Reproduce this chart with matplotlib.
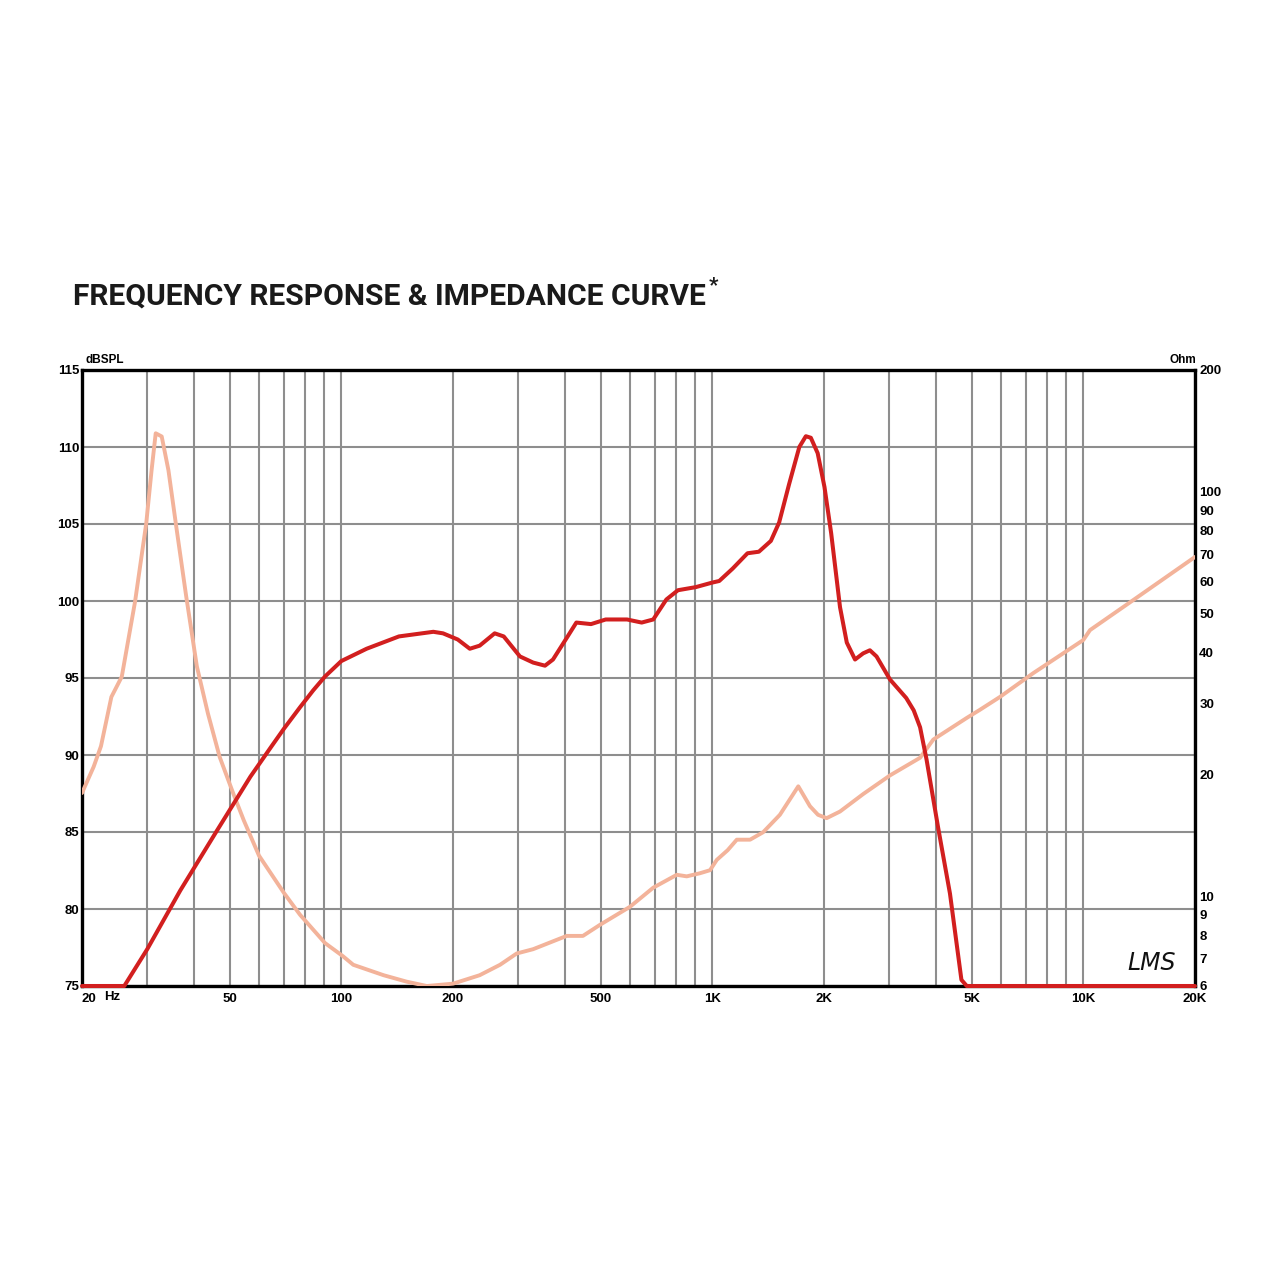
import matplotlib
matplotlib.use("Agg")
import matplotlib.pyplot as plt
from matplotlib import font_manager
from matplotlib.ticker import NullLocator

# ---------------- data ----------------
spl_freq = [20, 26, 30, 36.8, 45.7, 56.9, 65, 70, 77.4, 84, 90.4, 100, 117, 143, 177, 188, 206,
            222, 236, 259, 274, 303, 329, 354, 372, 405, 430, 471, 516, 589, 645, 693, 752, 808,
            902, 1001, 1044, 1134, 1244, 1335, 1438, 1514, 1611, 1716, 1787, 1843, 1923, 2006,
            2091, 2209, 2304, 2425, 2550, 2659, 2771, 3013, 3332, 3490, 3631, 3780, 4060,
            4371, 4693, 4851, 20000]
spl_db = [75, 75, 77.4, 81.2, 84.9, 88.6, 90.6, 91.7, 93.1, 94.2, 95.1, 96.1, 96.9, 97.7, 98.0,
          97.9, 97.5, 96.9, 97.1, 97.9, 97.7, 96.4, 96.0, 95.8, 96.2, 97.6, 98.6, 98.5, 98.8,
          98.8, 98.6, 98.8, 100.1, 100.7, 100.9, 101.2, 101.3, 102.1, 103.1, 103.2, 103.9,
          105.1, 107.6, 110.0, 110.7, 110.6, 109.6, 107.4, 104.4, 99.6, 97.3, 96.2, 96.6, 96.8,
          96.4, 94.9, 93.7, 92.9, 91.8, 89.7, 85.3, 81.0, 75.4, 75, 75]

imp_freq = [20, 21.5, 22.5, 24.0, 25.6, 27.8, 29.8, 30.8, 31.6, 32.8, 34.2, 35.9, 38.2, 40.8,
            43.7, 47.0, 51.2, 54.6, 60, 70, 77.4, 90.4, 101, 107.7, 130, 150, 170, 200, 236,
            267.8, 297, 329, 405, 448, 498, 600, 693, 802, 853, 926, 986, 1028, 1100, 1164,
            1264, 1371, 1521, 1705, 1833, 1927, 2033, 2209, 2552, 3013, 3631, 3941, 4851, 5262,
            5960, 7325, 9997, 10425, 13640, 20000]
imp_ohm = [18.0, 20.9, 23.5, 31.1, 34.9, 53.5, 83.6, 113, 139.5, 137, 113, 82, 55, 37, 28.3,
           22.1, 17.9, 15.4, 12.6, 10.2, 9.0, 7.66, 7.11, 6.77, 6.38, 6.15, 6.0, 6.08, 6.38,
           6.77, 7.22, 7.4, 7.98, 7.98, 8.5, 9.42, 10.5, 11.3, 11.2, 11.4, 11.6, 12.3, 13.0,
           13.8, 13.8, 14.4, 15.9, 18.7, 16.7, 15.9, 15.6, 16.2, 17.9, 19.9, 22.0, 24.4, 27.6,
           28.9, 31.1, 35.6, 43.0, 45.5, 54.0, 69.0]

x_tick_vals = [20, 50, 100, 200, 500, 1000, 2000, 5000, 10000, 20000]
x_tick_labels = ["20", "50", "100", "200", "500", "1K", "2K", "5K", "10K", "20K"]
x_grid_vals = [30, 40, 60, 70, 80, 90, 300, 400, 600, 700, 800, 900,
               3000, 4000, 6000, 7000, 8000, 9000]
db_ticks = [75, 80, 85, 90, 95, 100, 105, 110, 115]
ohm_ticks = [6, 7, 8, 9, 10, 20, 30, 40, 50, 60, 70, 80, 90, 100, 200]

# ---------------- style ----------------
avail = {f.name for f in font_manager.fontManager.ttflist}
title_font = "Roboto" if "Roboto" in avail else "Liberation Sans"
label_font = "Liberation Sans"

RED = "#d21f1f"
SALMON = "#f3b39a"
GRID = "#8e8e8e"

fig = plt.figure(figsize=(12.8, 12.8), dpi=100)
fig.patch.set_facecolor("white")
ax = fig.add_axes([82 / 1280, 1 - 986 / 1280, (1195 - 82) / 1280, (986 - 370) / 1280])

ax.set_xscale("log")
ax.set_xlim(20, 20000)
ax.set_ylim(75, 115)

# impedance on right log axis (create twins first, then configure shared x)
ax2 = ax.twinx()
ax3 = ax.twinx()

ax.set_xticks(x_tick_vals)
ax.set_xticklabels(x_tick_labels)
ax.set_xticks(x_grid_vals, minor=True)
ax.set_xticklabels([], minor=True)
ax.set_yticks(db_ticks)
ax.set_yticklabels([str(v) for v in db_ticks])
ax.tick_params(which="both", length=0)
ax.tick_params(axis="x", pad=5, labelsize=9.5)
ax.tick_params(axis="y", pad=2, labelsize=9.5)
for lab in ax.get_xticklabels() + ax.get_yticklabels():
    lab.set_fontweight("bold")
    lab.set_family(label_font)
first = ax.get_xticklabels()[0]
first.set_horizontalalignment("left")

ax.grid(True, which="both", axis="x", color=GRID, lw=1.5)
ax.grid(True, which="major", axis="y", color=GRID, lw=1.5)
ax.set_axisbelow(True)

for side in ["left", "right", "top", "bottom"]:
    ax.spines[side].set_linewidth(2.4)
    ax.spines[side].set_color("black")

ax2.set_yscale("log")
ax2.set_ylim(6, 200)
ax2.set_yticks(ohm_ticks)
ax2.set_yticklabels([str(v) for v in ohm_ticks])
ax2.yaxis.set_minor_locator(NullLocator())
ax2.tick_params(axis="y", which="both", length=0, pad=3, labelsize=9.5)
for lab in ax2.get_yticklabels():
    lab.set_fontweight("bold")
    lab.set_family(label_font)
for side in ["left", "right", "top", "bottom"]:
    ax2.spines[side].set_visible(False)

ax2.plot(imp_freq, imp_ohm, color=SALMON, lw=2.8, solid_joinstyle="round",
         solid_capstyle="round", zorder=3)

ax3.set_ylim(75, 115)
ax3.set_yticks([])
for side in ["left", "right", "top", "bottom"]:
    ax3.spines[side].set_visible(False)
ax3.plot(spl_freq, spl_db, color=RED, lw=2.9, solid_joinstyle="round",
         solid_capstyle="round", clip_on=False, zorder=4)

# texts
title = fig.text(73 / 1280, 1 - 297 / 1280, "FREQUENCY RESPONSE & IMPEDANCE CURVE",
                 fontsize=25, fontweight="bold", family=title_font, color="#1a1a1a",
                 ha="left", va="center")
renderer = fig.canvas.get_renderer()
w = title.get_window_extent(renderer).width
title.set_fontsize(25 * 635 / w)
bb = title.get_window_extent(renderer)
fig.text(bb.x1 / 1280 + 3 / 1280, 1 - 286 / 1280, "*", fontsize=15, fontweight="bold",
         family=title_font, color="#1a1a1a", ha="left", va="center")
fig.text(85 / 1280, 1 - 360 / 1280, "dBSPL", fontsize=8.5, fontweight="bold",
         family=label_font, ha="left", va="center")
fig.text(1196 / 1280, 1 - 360 / 1280, "Ohm", fontsize=8.5, fontweight="bold",
         family=label_font, ha="right", va="center")
fig.text(104 / 1280, 1 - 997 / 1280, "Hz", fontsize=9.5, fontweight="bold",
         family=label_font, ha="left", va="center")
fig.text(1152 / 1280, 1 - 963 / 1280, "LMS", fontsize=17, fontstyle="italic",
         family="DejaVu Sans", color="#111111", ha="center", va="center")

fig.savefig("out.png", dpi=100, facecolor="white")
